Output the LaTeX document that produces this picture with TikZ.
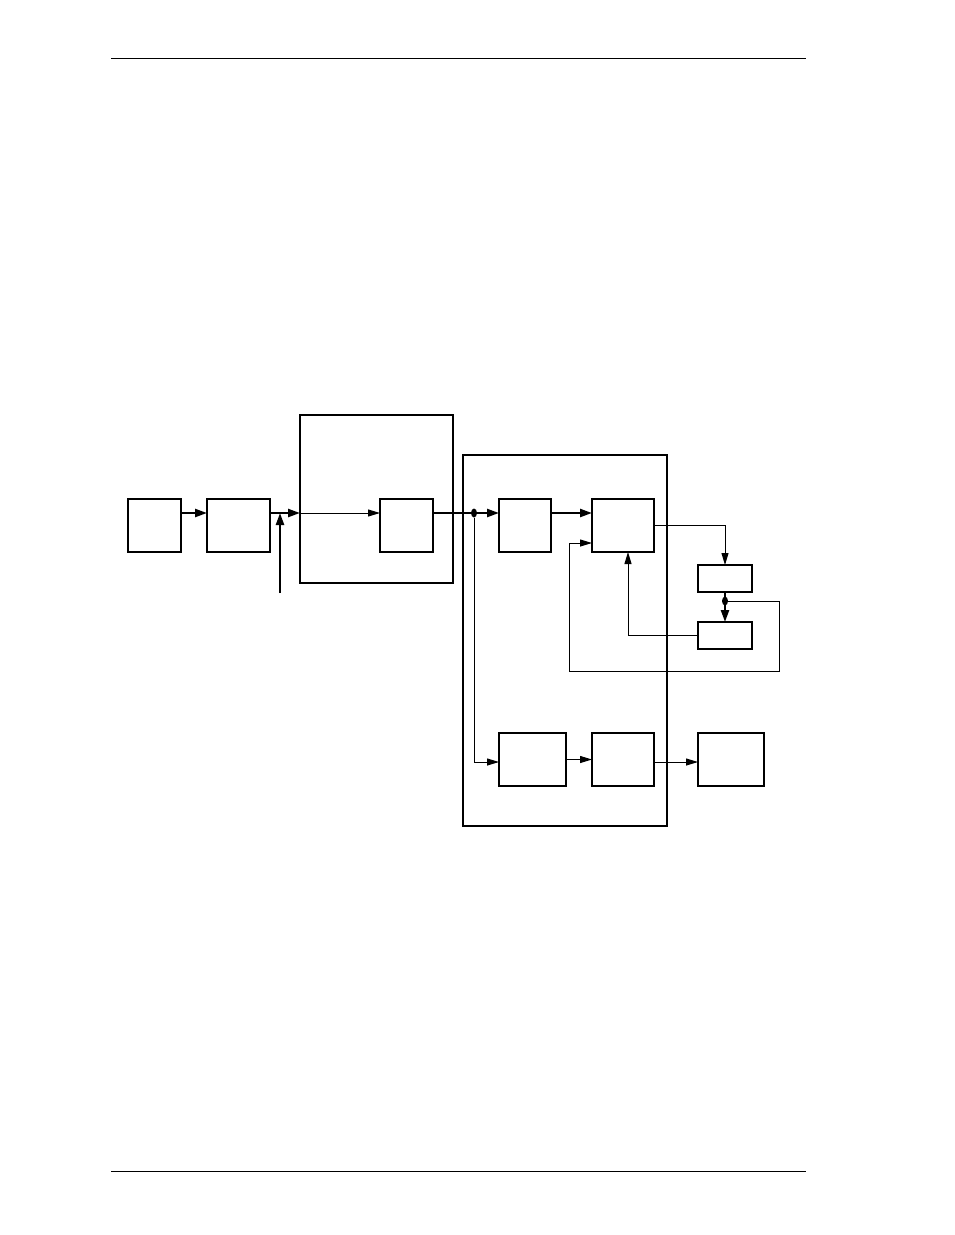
\documentclass[tikz,border=0pt]{standalone}
\usetikzlibrary{arrows.meta,shapes.geometric}
\begin{document}
\begin{tikzpicture}[x=1pt,y=-1pt,
  blk/.style={draw, line width=1.1pt, inner sep=0pt, outer sep=0pt, anchor=north west},
  thn/.style={line width=1pt, -{Triangle[length=12pt,width=7pt]}},
  thk/.style={line width=2.4pt, -{Triangle[length=12pt,width=8pt]}},
  dotn/.style={ellipse, fill=black, minimum width=6pt, minimum height=9pt, inner sep=0pt}]
\useasboundingbox[fill=white] (0,0) rectangle (954,1235);
% page rules
\coordinate (h1) at (111,58); \coordinate (h2) at (806,58);
\coordinate (f1) at (111,1171); \coordinate (f2) at (806,1171);
\draw[line width=0.9pt] (h1) -- (h2);
\draw[line width=0.9pt] (f1) -- (f2);
% boxes
\node[blk, minimum width=153pt, minimum height=168pt] (A) at (300,415) {};
\node[blk, minimum width=204pt, minimum height=371pt] (C) at (463,455) {};
\node[blk, minimum width=53pt, minimum height=53pt] (B1) at (128,499) {};
\node[blk, minimum width=63pt, minimum height=53pt] (B2) at (207,499) {};
\node[blk, minimum width=53pt, minimum height=53pt] (B3) at (380,499) {};
\node[blk, minimum width=52pt, minimum height=53pt] (B4) at (499,499) {};
\node[blk, minimum width=62pt, minimum height=53pt] (B5) at (592,499) {};
\node[blk, minimum width=54pt, minimum height=27pt] (B6) at (698,565) {};
\node[blk, minimum width=54pt, minimum height=27pt] (B7) at (698,622) {};
\node[blk, minimum width=67pt, minimum height=53pt] (B8) at (499,733) {};
\node[blk, minimum width=62pt, minimum height=53pt] (B9) at (592,733) {};
\node[blk, minimum width=66pt, minimum height=53pt] (B10) at (698,733) {};
\draw[line width=2.2pt] (B3.north east) -- (B3.south east);
\draw[line width=2.4pt] (B7.north west) -- (B7.north east);
% helper coordinates
\coordinate (r1) at (0,513);
\coordinate (r2) at (0,525);
\coordinate (r3) at (0,762);
\coordinate (r4) at (0,543);
\coordinate (in1) at (280,593);
\coordinate (c628) at (628,0);
\coordinate (l1) at (779,601);
\coordinate (l2) at (779,671);
\coordinate (l3) at (569,671);
\coordinate (l4) at (569,543);
\node[dotn] (d1) at (474,513) {};
\node[dotn] (d2) at (725,601) {};
% connectors
\draw[thk] (B1.east |- r1) -- (B2.west |- r1);
\draw[thk] (B2.east |- r1) -- (A.west |- r1);
\draw[thk] (in1) -- (in1 |- r1);
\draw[thn] (A.west |- r1) -- (B3.west |- r1);
\draw[thk] (B3.east |- r1) -- (B4.west |- r1);
\draw[thk] (B4.east |- r1) -- (B5.west |- r1);
\draw[thn] (B5.east |- r2) -| (B6.north);
\draw[thk] (B6.south) -- (B7.north);
\draw[thn] (B7.west) -| (c628 |- B5.south);
\draw[thn] (d2) -- (l1) -- (l2) -- (l3) -- (l4) -- (B5.west |- l4);
\draw[thn] (d1) |- (B8.west |- r3);
\draw[thn] (B8.east) -- (B9.west);
\draw[thn] (B9.east |- r3) -- (B10.west |- r3);
\end{tikzpicture}
\end{document}
